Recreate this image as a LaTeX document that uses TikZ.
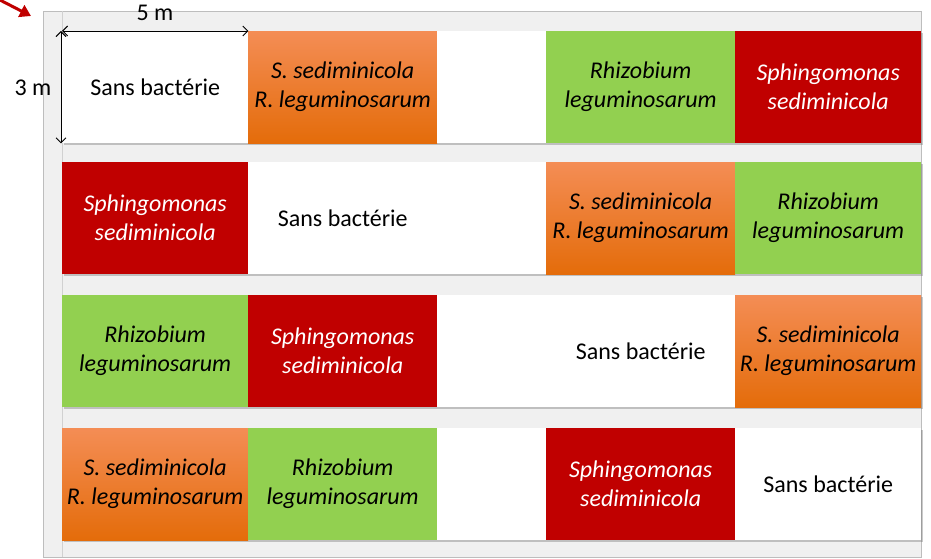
\documentclass[tikz,border=0pt]{standalone}
\usepackage{fontspec}
\setmainfont{Carlito}
\usetikzlibrary{shadows,arrows.meta}
\definecolor{bgc}{HTML}{F0F0F0}
\definecolor{frc}{HTML}{BDBDBD}
\definecolor{grn}{HTML}{92D050}
\definecolor{rdc}{HTML}{C00000}
\definecolor{orT}{HTML}{F48D55}
\definecolor{orB}{HTML}{E46C0A}
\begin{document}
\begin{tikzpicture}[x=1pt,y=-1pt,
  cell/.style={anchor=north west, inner sep=0pt, align=center, minimum height=112pt,
    font=\fontsize{24}{29}\selectfont\itshape,
    drop shadow={shadow xshift=1.5pt, shadow yshift=-1.5pt, opacity=0.35, fill=black!60}},
  wa/.style={cell, minimum width=186pt},
  wb/.style={cell, minimum width=189pt},
  wg/.style={cell, minimum width=109pt, fill=white},
  sans/.style={fill=white, text=black, font=\fontsize{24}{29}\selectfont},
  sr/.style={top color=orT, bottom color=orB, text=black},
  rh/.style={fill=grn, text=black},
  sp/.style={fill=rdc, text=white},
  dim/.style={line width=0.9pt, {Straight Barb[length=5pt,width=10pt]}-{Straight Barb[length=5pt,width=10pt]}},
  lbl/.style={font=\fontsize{24}{28}\selectfont, inner sep=0pt}
]
\useasboundingbox (0,0) rectangle (931,559);
% frame
\draw[frc, fill=bgc, line width=0.8pt] (43,11) rectangle (921,557);
\draw[frc!70, line width=0.8pt] (62,11) -- (62,557);
% red pointer arrow
\coordinate (pa) at (-2,-1);
\coordinate (pb) at (31,16);
\draw[rdc, line width=3pt, -{Triangle[length=11pt,width=13pt]}] (pa) -- (pb);
% row 1
\node[wa,sans] (r1c1) at (62,31) {Sans bactérie};
\node[wb,sr]   (r1c2) at (248,31) {S. sediminicola\\R. leguminosarum};
\node[wg]      (r1g)  at (437,31) {};
\node[wb,rh]   (r1c3) at (546,31) {Rhizobium\\leguminosarum};
\node[wa,sp]   (r1c4) at (735,31) {Sphingomonas\\sediminicola};
% row 2
\node[wa,sp]   (r2c1) at (62,162) {Sphingomonas\\sediminicola};
\node[wb,sans] (r2c2) at (248,162) {Sans bactérie};
\node[wg]      (r2g)  at (437,162) {};
\node[wb,sr]   (r2c3) at (546,162) {S. sediminicola\\R. leguminosarum};
\node[wa,rh]   (r2c4) at (735,162) {Rhizobium\\leguminosarum};
% row 3
\node[wa,rh]   (r3c1) at (62,295) {Rhizobium\\leguminosarum};
\node[wb,sp]   (r3c2) at (248,295) {Sphingomonas\\sediminicola};
\node[wg]      (r3g)  at (437,295) {};
\node[wb,sans] (r3c3) at (546,295) {Sans bactérie};
\node[wa,sr]   (r3c4) at (735,295) {S. sediminicola\\R. leguminosarum};
% row 4
\node[wa,sr]   (r4c1) at (62,428) {S. sediminicola\\R. leguminosarum};
\node[wb,rh]   (r4c2) at (248,428) {Rhizobium\\leguminosarum};
\node[wg]      (r4g)  at (437,428) {};
\node[wb,sp]   (r4c3) at (546,428) {Sphingomonas\\sediminicola};
\node[wa,sans] (r4c4) at (735,428) {Sans bactérie};
% dimensions
\draw[dim] (r1c1.north west) -- (r1c1.north east);
\draw[dim] ([xshift=-1pt]r1c1.north west) -- ([xshift=-1pt]r1c1.south west);
\node[lbl] (w5) at (155,13) {5 m};
\node[lbl] (h3) at (33,88) {3 m};
\end{tikzpicture}
\end{document}
